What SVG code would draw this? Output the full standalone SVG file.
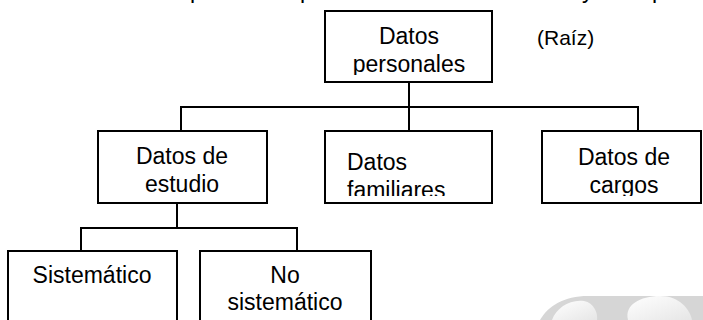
<svg xmlns="http://www.w3.org/2000/svg" width="703" height="320" viewBox="0 0 703 320">
<style>
.box{fill:#fff;stroke:#000;stroke-width:2}
.ln{fill:none;stroke:#000;stroke-width:2}
text{font-family:"Liberation Sans",Arial,sans-serif;font-size:23px;fill:#000}
.c{text-anchor:middle}
</style>
<defs>
<clipPath id="cRoot"><rect x="326" y="12" width="165" height="63"/></clipPath>
<clipPath id="cFam"><rect x="326" y="132" width="165" height="64"/></clipPath>
<clipPath id="cCar"><rect x="543" y="132" width="158" height="64"/></clipPath>
<linearGradient id="wg" x1="0" y1="0" x2="1" y2="1">
<stop offset="0" stop-color="#ffffff"/><stop offset="1" stop-color="#e6e6e6"/>
</linearGradient>
</defs>
<rect width="703" height="320" fill="#fff"/>
<g id="watermark">
<path d="M540,320 C548,306 564,296 588,296 L703,296 L703,320 Z" fill="#d6d6d6"/>
<path d="M552,320 C556,308 570,299 584,301 C594,303 598,313 597,320 Z" fill="url(#wg)"/>
<path d="M628,320 C624,305 640,296 660,296 C680,296 690,310 692,320 Z" fill="url(#wg)"/>
</g>
<g id="top-fragment">
<text x="190" y="-2">p</text>
<text x="300" y="-2">p</text>
<text x="582" y="-2">y</text>
<text x="652" y="-2">p</text>
</g>
<g id="connectors">
<path class="ln" d="M409,82 V107 M181,131 V107 H638 V131 M409,107 V131"/>
<path class="ln" d="M177,203 V228 M81,251 V228 H297 V251"/>
</g>
<g id="root">
<rect class="box" x="325" y="11" width="167" height="71"/>
<g clip-path="url(#cRoot)">
<text class="c" x="409" y="44">Datos</text>
<text class="c" x="409" y="72">personales</text>
</g>
</g>
<text id="raiz" x="537" y="45" style="font-size:21px">(Raíz)</text>
<g id="estudio">
<rect class="box" x="98" y="131" width="169" height="72"/>
<text class="c" x="182" y="164">Datos de</text>
<text class="c" x="182" y="192">estudio</text>
</g>
<g id="familiares">
<rect class="box" x="325" y="131" width="167" height="72"/>
<g clip-path="url(#cFam)">
<text x="347" y="170">Datos</text>
<text x="347" y="198">familiares</text>
</g>
</g>
<g id="cargos">
<rect class="box" x="542" y="131" width="159" height="72"/>
<g clip-path="url(#cCar)">
<text class="c" x="624" y="165">Datos de</text>
<text class="c" x="624" y="193">cargos</text>
</g>
</g>
<g id="sistematico">
<path class="box" d="M8,322 V251 H177 V322"/>
<text class="c" x="92" y="283">Sistemático</text>
</g>
<g id="nosistematico">
<path class="box" d="M200,322 V251 H371 V322"/>
<text class="c" x="285" y="283">No</text>
<text class="c" x="285" y="310">sistemático</text>
</g>
</svg>
